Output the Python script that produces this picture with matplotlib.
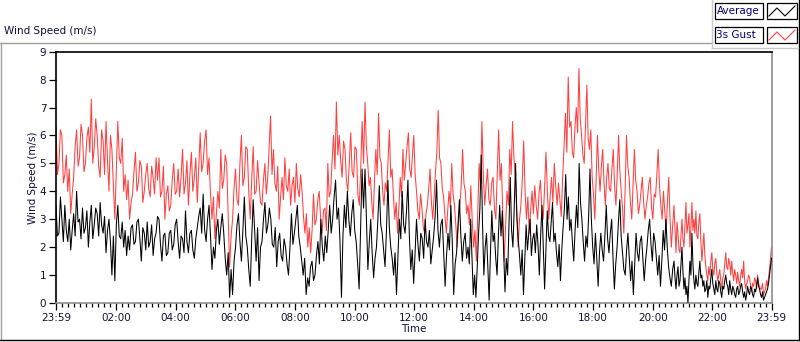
import numpy as np
import matplotlib
matplotlib.use('Agg')
import matplotlib.pyplot as plt
from matplotlib.lines import Line2D
from matplotlib.patches import Rectangle

# ---- data (hours since 23:59 of the previous day) ----
seg_start_h = [0.0, 3.455, 6.910, 10.365, 13.820, 17.275, 20.730, 24.0]

gust_1 = [6.3,4.6, 5.0,6.2, 6.0,4.3, 4.6,5.3, 4.0,4.8, 3.2,3.9, 4.5,5.6, 6.2,4.9, 5.2,6.4, 6.0,4.7,
          5.0,5.9, 6.3,5.4, 7.3,5.0, 5.6,6.6, 6.0,4.9, 4.5,6.2, 5.8,4.6, 6.5,5.1, 4.0,6.0, 5.5,4.2,
          3.0,4.8, 6.5,5.2, 5.0,5.9, 4.0,4.6, 3.7,4.4, 3.0,3.6, 3.9,4.7, 5.4,4.0, 4.3,5.1, 4.9,3.6,
          4.0,4.6, 5.0,4.1, 3.8,4.9, 4.5,3.9, 5.2,4.4]
gust_2 = [5.2,3.8, 4.0,4.9, 3.0,3.9, 4.2,3.3, 3.5,4.4, 5.0,3.9, 4.0,4.8, 3.8,4.5, 5.5,3.9, 4.3,5.1,
          3.5,4.6, 5.4,4.0, 4.5,5.2, 3.6,4.8, 6.1,4.7, 5.0,5.8, 6.2,4.6, 5.2,3.9, 3.0,3.8, 2.3,3.2,
          4.0,3.4, 5.5,4.1, 4.4,5.3, 5.0,3.2, 1.3,2.4, 3.0,4.1, 4.8,3.7, 3.5,5.0, 6.0,4.2, 4.5,5.6,
          5.5,4.0, 3.0,4.4, 5.6,3.9, 4.0,5.1, 4.3,3.6]
gust_3 = [3.5,4.4, 5.0,3.9, 4.5,5.6, 6.7,4.6, 5.5,4.3, 4.0,4.9, 3.0,3.8, 4.5,3.7, 5.2,4.2, 4.0,4.8,
          3.5,4.2, 4.5,3.6, 5.0,4.1, 3.8,4.6, 4.0,3.1, 2.5,3.2, 2.0,2.7, 1.8,2.6, 3.9,2.8, 3.0,3.7,
          4.0,3.0, 2.5,3.3, 3.4,2.6, 5.0,3.8, 4.0,5.1, 6.0,4.8, 7.2,5.3, 6.0,5.1, 4.5,5.8, 5.5,4.4,
          4.0,5.0, 6.1,4.7, 4.5,5.6, 5.5,3.9, 3.5,4.8, 6.5,5.0]
gust_4 = [7.2,5.6, 5.0,4.2, 4.5,3.6, 3.0,4.4, 5.5,4.6, 6.8,5.2, 5.0,4.0, 3.5,4.3, 4.0,5.1, 6.2,4.5,
          4.8,3.8, 3.0,3.6, 2.5,3.4, 4.5,3.8, 5.5,4.4, 5.0,5.6, 6.1,4.8, 4.5,5.3, 6.0,4.6, 4.0,3.3,
          3.0,3.9, 3.4,2.7, 2.5,3.2, 3.5,4.1, 4.8,3.6, 3.0,3.8, 4.7,5.4, 6.9,5.2, 5.0,4.1, 3.8,3.1,
          2.5,3.3, 4.0,3.4, 5.0,3.9, 3.5,2.8, 2.0,2.9, 3.5,4.2, 5.5,4.3, 4.0,3.2]
gust_5 = [3.5,2.8, 4.2,3.0, 2.0,2.6, 1.5,3.3, 5.0,4.1, 6.5,4.6, 3.5,4.2, 4.8,3.7, 3.5,4.3, 4.5,3.4,
          3.0,4.6, 6.2,4.4, 5.0,3.1, 1.5,2.8, 4.0,3.5, 5.5,4.6, 6.5,5.2, 4.5,3.3, 2.0,3.0, 3.5,4.4,
          5.8,4.0, 3.0,3.8, 2.5,3.3, 4.0,3.2, 4.2,3.5, 3.0,3.9, 4.4,3.4, 3.0,4.1, 5.4,4.0, 3.0,3.8,
          4.5,3.6, 5.0,4.2, 3.5,4.3, 3.7,3.1, 4.5,5.6, 6.8,5.4, 8.1,6.3]
gust_6 = [6.5,5.4, 5.2,6.3, 7.0,6.1, 8.4,6.6, 6.0,5.3, 5.0,6.4, 7.8,5.9, 5.5,6.2, 4.5,3.9, 3.0,4.4,
          6.0,4.8, 4.0,4.9, 5.5,4.3, 3.5,4.5, 5.0,4.1, 4.0,4.8, 5.5,4.2, 3.5,4.6, 6.0,4.7, 4.0,3.4,
          2.5,4.1, 6.0,4.9, 4.5,3.6, 3.0,4.2, 5.5,4.4, 4.0,3.2, 3.5,4.0, 4.5,3.6, 3.0,3.5, 3.8,4.3,
          4.5,3.4, 3.0,3.9, 3.8,4.6, 5.5,4.2, 3.5,3.0, 4.0,3.3, 2.5,3.6, 4.5,3.0, 2.0,2.8]
gust_7 = [3.5,2.6, 1.8,2.9, 2.5,1.9, 1.8,2.4, 3.0,2.3, 2.0,2.8, 3.6,2.5, 2.8,3.2, 2.0,2.7, 3.6,2.6,
          3.0,2.5, 3.3,2.4, 2.3,2.9, 3.2,2.2, 1.5,2.0, 2.5,1.7, 1.3,1.0, 0.8,1.3, 1.0,1.5, 1.8,1.2,
          1.0,1.4, 1.6,1.1, 0.8,1.0, 1.2,0.8, 0.5,0.9, 1.0,1.4, 1.8,1.3, 1.2,1.6, 1.4,1.0, 1.5,1.1,
          0.8,1.2, 1.0,0.7, 1.1,0.8, 0.6,1.0, 1.2,0.9, 1.5,0.8, 0.5,0.7, 0.8,1.0, 0.9,0.6, 0.4,0.7,
          0.6,0.9, 0.8,0.5, 1.0,0.7, 0.6,0.5, 0.5,0.7, 0.3,0.4, 0.5,0.8, 0.6,0.9, 1.2,1.6, 2.0]

avg_1 = [3.5,2.4, 2.5,3.8, 3.0,2.2, 3.5,2.6, 2.2,3.0, 1.9,2.6, 3.2,2.4, 4.0,2.9, 3.0,2.3, 3.4,2.5,
         2.7,3.3, 2.0,2.9, 3.5,2.3, 2.8,3.4, 3.2,2.4, 3.6,2.8, 2.5,3.1, 1.8,2.6, 3.0,2.2, 1.0,2.4,
         0.8,2.8, 3.5,2.4, 2.3,2.9, 2.0,2.6, 1.7,2.4, 1.9,2.7, 2.8,2.1, 2.2,2.9, 3.0,2.3, 1.5,2.7,
         2.5,1.9, 2.9,2.0, 2.2,2.8, 1.7,2.3, 2.5,3.1]
avg_2 = [3.0,2.1, 1.5,2.4, 2.5,1.7, 1.8,2.5, 2.6,1.9, 2.1,2.8, 3.0,2.2, 1.6,2.4, 2.3,1.8, 3.3,2.2,
         1.8,2.5, 2.6,1.9, 1.6,2.3, 2.7,3.1, 3.4,2.5, 3.9,2.6, 2.2,3.0, 3.5,2.4, 1.2,2.0, 1.6,2.6,
         3.0,2.1, 2.7,3.2, 2.5,1.6, 1.0,1.8, 0.2,1.2, 0.3,1.5, 2.0,2.8, 3.2,2.2, 1.5,2.6, 3.8,2.4,
         2.0,1.2, 0.6,2.3, 3.7,2.6, 1.5,2.7, 0.8,2.0]
avg_3 = [2.2,3.0, 3.6,2.5, 2.8,3.4, 3.0,2.1, 2.0,2.7, 1.3,2.2, 2.5,1.7, 1.5,2.3, 2.0,1.4, 1.0,2.0,
         3.2,2.1, 2.5,3.0, 3.5,2.4, 2.0,1.5, 1.0,1.6, 0.3,0.9, 0.6,1.3, 1.5,0.8, 1.0,1.7, 2.2,1.4,
         3.0,2.0, 1.5,2.4, 1.8,2.6, 3.5,2.5, 3.0,3.8, 4.4,3.0, 3.4,2.2, 0.2,2.4, 3.5,2.7, 4.0,3.0,
         2.4,3.2, 3.7,2.6, 2.2,1.4, 0.5,2.6, 4.8,3.4]
avg_4 = [4.8,3.0, 1.2,2.2, 3.0,1.8, 0.9,1.6, 2.0,3.0, 4.2,2.8, 2.5,1.9, 1.3,2.6, 4.4,2.7, 2.0,1.6,
         1.0,1.8, 0.3,1.7, 3.0,2.3, 4.0,2.8, 2.5,3.3, 4.4,2.4, 1.2,1.9, 0.7,1.8, 3.0,2.1, 1.5,2.5,
         2.3,1.6, 3.0,2.2, 2.0,2.6, 1.4,1.9, 2.4,3.1, 4.4,2.6, 2.0,2.8, 3.0,1.8, 0.6,1.7, 2.5,1.9,
         3.5,2.2, 0.3,1.4, 1.8,2.8, 3.7,2.4, 1.5,2.2, 2.5,1.6]
avg_5 = [2.0,1.4, 3.0,1.6, 0.3,1.0, 0.2,1.3, 2.5,3.4, 5.3,2.8, 1.0,2.0, 2.5,1.3, 0.1,1.8, 3.3,2.2,
         2.5,1.6, 1.0,2.4, 3.5,2.4, 3.3,1.9, 0.4,1.6, 1.0,2.8, 4.5,2.6, 2.0,3.4, 5.0,3.1, 2.3,1.7,
         1.0,1.9, 0.3,1.6, 2.8,1.9, 2.5,3.0, 1.7,2.3, 2.5,1.8, 2.8,2.1, 1.0,2.4, 3.5,2.0, 0.5,1.9,
         3.3,2.4, 2.2,2.9, 3.6,2.2, 2.5,1.8, 1.3,2.1, 0.8,1.9, 2.7,3.4, 4.6,3.0, 3.8,2.6]
avg_6 = [3.0,2.2, 1.5,2.6, 3.5,2.7, 5.0,3.6, 3.0,2.2, 1.5,2.4, 2.0,3.1, 4.8,3.0, 2.0,1.4, 2.5,1.6,
         0.6,1.8, 2.5,1.9, 1.5,2.4, 3.5,2.3, 1.8,2.5, 3.0,1.6, 0.5,1.4, 2.0,2.9, 3.7,2.4, 1.8,1.2,
         1.0,1.9, 2.5,1.6, 0.8,1.5, 0.3,1.4, 2.5,1.8, 1.5,2.2, 2.4,1.6, 0.8,1.5, 2.0,2.6, 3.0,2.1,
         1.5,2.5, 2.2,1.6, 1.0,1.7, 0.6,1.5, 2.6,1.9, 3.0,2.0, 1.3,0.9, 0.6,1.2]
avg_7 = [1.5,0.9, 0.5,1.0, 1.3,0.6, 0.8,1.4, 2.0,1.1, 0.5,0.9, 0.3,0.6, 0.0,0.8, 1.5,1.0, 2.5,1.4,
         0.8,0.5, 1.0,0.7, 0.6,1.1, 1.5,0.9, 1.0,0.6, 0.8,0.4, 0.5,0.8, 0.2,0.6, 0.5,0.9, 1.2,0.7,
         0.5,0.3, 0.8,0.5, 0.4,0.8, 0.7,0.4, 0.2,0.6, 0.5,0.8, 1.0,0.7, 0.6,0.3, 0.8,0.5, 0.3,0.6,
         0.5,0.3, 0.2,0.5, 0.6,0.3, 0.4,0.6, 0.7,0.4, 0.2,0.4, 0.1,0.3, 0.6,0.4, 0.3,0.6, 0.5,0.3,
         0.2,0.5, 0.4,0.6, 0.9,0.6, 0.5,0.3, 0.2,0.4, 0.1,0.2, 0.3,0.4, 0.5,0.7, 1.0,1.3, 1.6]

gust_segments = [gust_1, gust_2, gust_3, gust_4, gust_5, gust_6, gust_7]
avg_segments = [avg_1, avg_2, avg_3, avg_4, avg_5, avg_6, avg_7]

x_tick_hours = [0.0] + [h + 1/60 for h in range(2, 23, 2)] + [24.0]
x_tick_labels = ['23:59', '02:00', '04:00', '06:00', '08:00', '10:00', '12:00',
                 '14:00', '16:00', '18:00', '20:00', '22:00', '23:59']
y_ticks = list(range(0, 10))
series_names = ['Average', '3s Gust']


def build(segments):
    ts, vs = [], []
    n = len(segments)
    for k, seg in enumerate(segments):
        last = (k == n - 1)
        t = np.linspace(seg_start_h[k], seg_start_h[k + 1], len(seg), endpoint=last)
        ts.append(t)
        vs.append(np.asarray(seg, float))
    return np.concatenate(ts), np.concatenate(vs)


t_g, v_g = build(gust_segments)
t_a, v_a = build(avg_segments)

# ---- figure ----
W, H = 800, 342
fig = plt.figure(figsize=(8, 3.42), dpi=100)
fig.patch.set_facecolor('white')
FONT = 'DejaVu Sans'
TXT = '#10123a'
plt.rcParams['font.family'] = [FONT]


def fx(x):
    return x / W


def fy(y):
    return 1 - y / H


ax = fig.add_axes([fx(56), fy(303), fx(771.5) - fx(56), fy(51.7) - fy(303)])
ax.plot(t_g, v_g, color='#ff4040', lw=0.75, zorder=2)
ax.plot(t_a, v_a, color='black', lw=0.75, zorder=3)
ax.set_xlim(0, 24)
ax.set_ylim(0, 9)
ax.set_yticks(y_ticks)
ax.set_xticks(x_tick_hours)
ax.set_xticklabels(x_tick_labels)
minor = [1/60 + 0.2 * k for k in range(1, 120)]
ax.set_xticks(minor, minor=True)

for s in ['top', 'left']:
    ax.spines[s].set_color('black')
    ax.spines[s].set_linewidth(1.2)
for s in ['bottom', 'right']:
    ax.spines[s].set_color('#8c8c8c')
    ax.spines[s].set_linewidth(1.2)

ax.tick_params(axis='both', which='major', direction='out', length=5, width=0.9,
               color='black', labelsize=7.5, labelcolor=TXT, pad=2)
ax.tick_params(axis='x', which='minor', direction='out', length=3, width=0.9, color='black')
ax.set_xlabel('Time', fontsize=7.5, color=TXT, labelpad=1)
ax.set_ylabel('Wind Speed (m/s)', fontsize=7.5, color=TXT, labelpad=1)

# ---- chart frame / decorations ----
def line(x0, y0, x1, y1, color, lw=1.0):
    fig.add_artist(Line2D([fx(x0), fx(x1)], [fy(y0), fy(y1)], color=color, lw=lw,
                          transform=fig.transFigure))

gray = '#a0a0a0'
line(0, 42.5, 712, 42.5, gray)
line(1, 42.5, 1, 340, gray)
line(0, 340, 799, 340, 'black')
line(798.5, 0, 798.5, 340, 'black')
line(712, 0, 712, 48, '#c8c8c8')
line(712, 48, 798, 48, '#c8c8c8')

fig.text(fx(4), fy(31.5), 'Wind Speed (m/s)', fontsize=7.5, color=TXT, va='center', ha='left')

# legend
colors = ['black', '#ff4040']
for i, (name, c) in enumerate(zip(series_names, colors)):
    y0 = 3 + i * 24
    fig.add_artist(Rectangle((fx(715), fy(y0 + 16)), fx(763) - fx(715), fy(y0) - fy(y0 + 16),
                             transform=fig.transFigure, facecolor='white',
                             edgecolor='black', lw=0.9))
    fig.text(fx(716.5), fy(y0 + 8), name, fontsize=7.5, color='#000080',
             va='center', ha='left')
    fig.add_artist(Rectangle((fx(767), fy(y0 + 16)), fx(797) - fx(767), fy(y0) - fy(y0 + 16),
                             transform=fig.transFigure, facecolor='white',
                             edgecolor='black', lw=0.9))
    zx = [769, 777, 785, 795]
    zy = [y0 + 13, y0 + 5, y0 + 13, y0 + 3]
    fig.add_artist(Line2D([fx(v) for v in zx], [fy(v) for v in zy], color=c, lw=0.8,
                          transform=fig.transFigure))

fig.savefig('out.png', dpi=100)
